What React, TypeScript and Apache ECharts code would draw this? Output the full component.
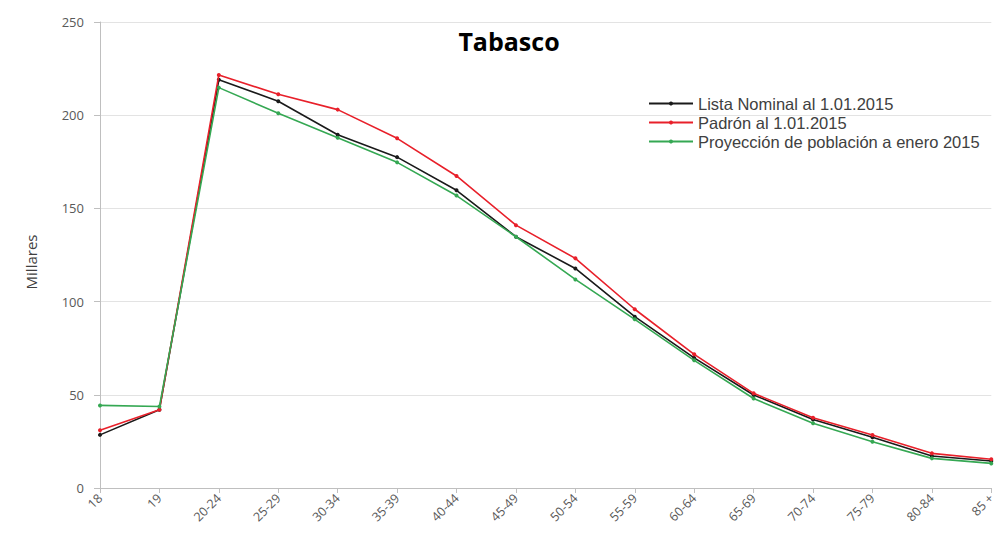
import React, { useEffect, useRef } from "react";
import * as echarts from "echarts";

const categories = ["18", "19", "20-24", "25-29", "30-34", "35-39", "40-44", "45-49", "50-54", "55-59", "60-64", "65-69", "70-74", "75-79", "80-84", "85 +"];
const listaNominal = [28.5, 42, 219, 207.5, 189.5, 177.5, 159.7, 134.8, 117.8, 91.9, 69.8, 49.9, 36.8, 27.2, 17.2, 14.5];
const padron = [31, 42, 221.6, 211.2, 203, 187.6, 167.4, 141, 123.2, 95.9, 71.7, 50.8, 37.7, 28.4, 18.6, 15.4];
const proyeccion = [44.3, 43.7, 214.8, 201, 187.9, 174.7, 156.9, 134.8, 111.9, 90.5, 68.5, 48, 34.7, 24.8, 15.9, 13.2];
const seriesNames = ["Lista Nominal al 1.01.2015", "Padrón al 1.01.2015", "Proyección de población a enero 2015"];
const seriesColors = ["#1a1a1a", "#e8202a", "#35a853"];

const FONT = "'Open Sans', 'Liberation Sans', sans-serif";
const LEGEND_FONT = "'Liberation Sans', Arial, sans-serif";

export default function App() {
  const ref = useRef<HTMLDivElement>(null);
  useEffect(() => {
    document.body.style.margin = "0";
    if (!ref.current) return;
    const chart = echarts.init(ref.current, null, { renderer: "svg" });
    const data = [listaNominal, padron, proyeccion];
    chart.setOption({
      animation: false,
      backgroundColor: "#ffffff",
      title: {
        text: "Tabasco",
        left: 504,
        top: 23,
        textAlign: "center",
        textStyle: { fontFamily: FONT, fontSize: 25, fontWeight: "bold", color: "#000" },
      },
      legend: {
        orient: "vertical",
        left: 648,
        top: 95,
        padding: 0,
        itemWidth: 44,
        itemHeight: 5,
        itemGap: 2,
        textStyle: { fontFamily: LEGEND_FONT, fontSize: 16.5, lineHeight: 17, color: "#404040" },
        data: seriesNames,
      },
      graphic: [
        {
          type: "text",
          x: 31,
          y: 262,
          rotation: Math.PI / 2,
          style: {
            text: "Millares",
            fontFamily: FONT,
            fontSize: 15,
            fill: "#404040",
            align: "center",
            verticalAlign: "middle",
          },
        },
      ],
      grid: { left: 100, right: 3, top: 22, bottom: 49, containLabel: false },
      xAxis: {
        type: "category",
        data: categories,
        boundaryGap: false,
        axisLine: { lineStyle: { color: "#bfbfbf", width: 1 } },
        axisTick: { show: true, alignWithLabel: true, length: 5, lineStyle: { color: "#bfbfbf" } },
        axisLabel: { rotate: 45, fontFamily: FONT, fontSize: 12.5, color: "#595959", margin: 8, interval: 0 },
        splitLine: { show: false },
      },
      yAxis: {
        type: "value",
        min: 0,
        max: 250,
        interval: 50,
        axisLine: { show: true, lineStyle: { color: "#bfbfbf", width: 1 } },
        axisTick: { show: true, length: 6, lineStyle: { color: "#bfbfbf" } },
        axisLabel: { fontFamily: FONT, fontSize: 13, color: "#595959", margin: 16 },
        splitLine: { show: true, lineStyle: { color: "#e3e3e3", width: 1 } },
      },
      series: data.map((d, i) => ({
        name: seriesNames[i],
        type: "line",
        data: d,
        symbol: "circle",
        symbolSize: 4,
        color: seriesColors[i],
        lineStyle: { color: seriesColors[i], width: 1.6 },
        itemStyle: { color: seriesColors[i] },
        z: 2 + i,
      })),
    });
    return () => chart.dispose();
  }, []);
  return <div ref={ref} style={{ width: 998, height: 537 }} />;
}
